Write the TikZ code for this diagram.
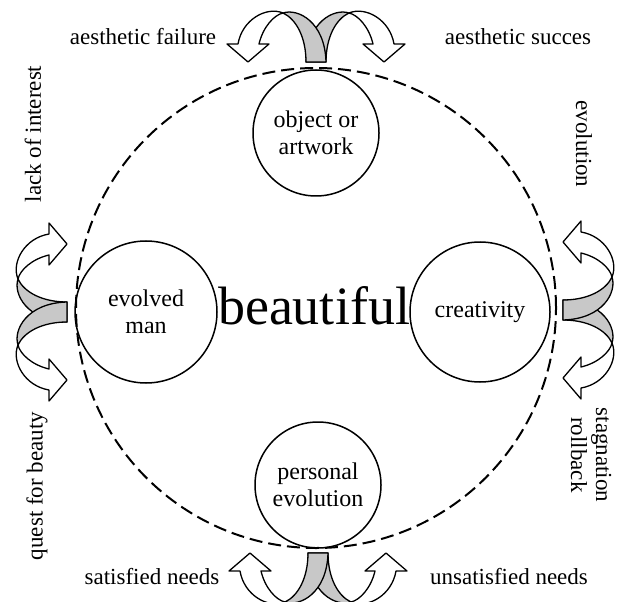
\documentclass[tikz,border=0pt]{standalone}
\usepackage{fontspec}
\setmainfont{Liberation Serif}
\definecolor{ribbon}{RGB}{200,200,200}
\tikzset{
  arrline/.style={draw=black, line width=1.3pt, line join=round},
  arrgray/.style={arrline, fill=ribbon},
  arrwhite/.style={arrline, fill=white},
  smallcirc/.style={draw=black, line width=1.5pt, circle, inner sep=0pt, align=center, font=\fontsize{24}{27}\selectfont},
  bigcirc/.style={draw=black, line width=2pt, dash pattern=on 13pt off 6pt, circle, inner sep=0pt},
  lab/.style={font=\fontsize{23}{25}\selectfont, align=center, inner sep=0pt},
}
\newcommand\grayband{%
  \filldraw[arrgray] (-33,49) .. controls (-20,43) and (-10,25) .. (-10,0) -- (10,0) .. controls (9,40) and (-18,54) .. (-33,49) -- cycle;}
\newcommand\whiteband{%
  \filldraw[arrwhite] (-78,18) .. controls (-74,42) and (-50,56) .. (-33,49) .. controls (-42,47) and (-53,35) .. (-57,18) -- (-47,18) -- (-68,0) -- (-89,18) -- cycle;}
\newcommand\splitarrow{%
  \begin{scope}[xscale=-1]\grayband\end{scope}
  \grayband
  \whiteband
  \begin{scope}[xscale=-1]\whiteband\end{scope}}
\begin{document}
\begin{tikzpicture}[x=1pt, y=-1pt]
\useasboundingbox (0,0) rectangle (617,601);
\clip (0,0) rectangle (617,601);
% outer labels
\node[lab] (af) at (143,37) {aesthetic failure};
\node[lab] (as) at (518,37) {aesthetic succes};
\node[lab] (sn) at (152,577) {satisfied needs};
\node[lab] (un) at (509,577) {unsatisfied needs};
\node[lab, rotate=90] (li) at (33,134) {lack of interest};
\node[lab, rotate=90] (qb) at (37,486) {quest for beauty};
\node[lab, rotate=-90] (ev) at (584,144) {evolution};
\node[lab, rotate=-90] (sr) at (591,455) {stagnation\\rollback};
% big dashed circle
\node[bigcirc, minimum size=480pt] (big) at (316,308) {};
% small circles
\node[smallcirc, minimum size=126pt] (obj) at (316,133) {object or\\artwork};
\node[smallcirc, minimum size=126pt] (pe) at (318,485) {personal\\evolution};
\node[smallcirc, minimum size=142pt] (em) at (146,312) {evolved\\man};
\node[smallcirc, minimum size=140pt] (cr) at (480,312) {creativity};
% centre word
\node[font=\fontsize{54}{54}\selectfont, inner sep=0pt] (beau) at (314,306) {beautiful};
% split arrows
\begin{scope}[shift={(316,62)}, yscale=-1]\splitarrow\end{scope}
\begin{scope}[shift={(318,553)}]\splitarrow\end{scope}
\begin{scope}[shift={(67,312)}, rotate=90, yscale=-1]\splitarrow\end{scope}
\begin{scope}[shift={(563,310)}, rotate=-90, yscale=-1]\splitarrow\end{scope}
\end{tikzpicture}
\end{document}
